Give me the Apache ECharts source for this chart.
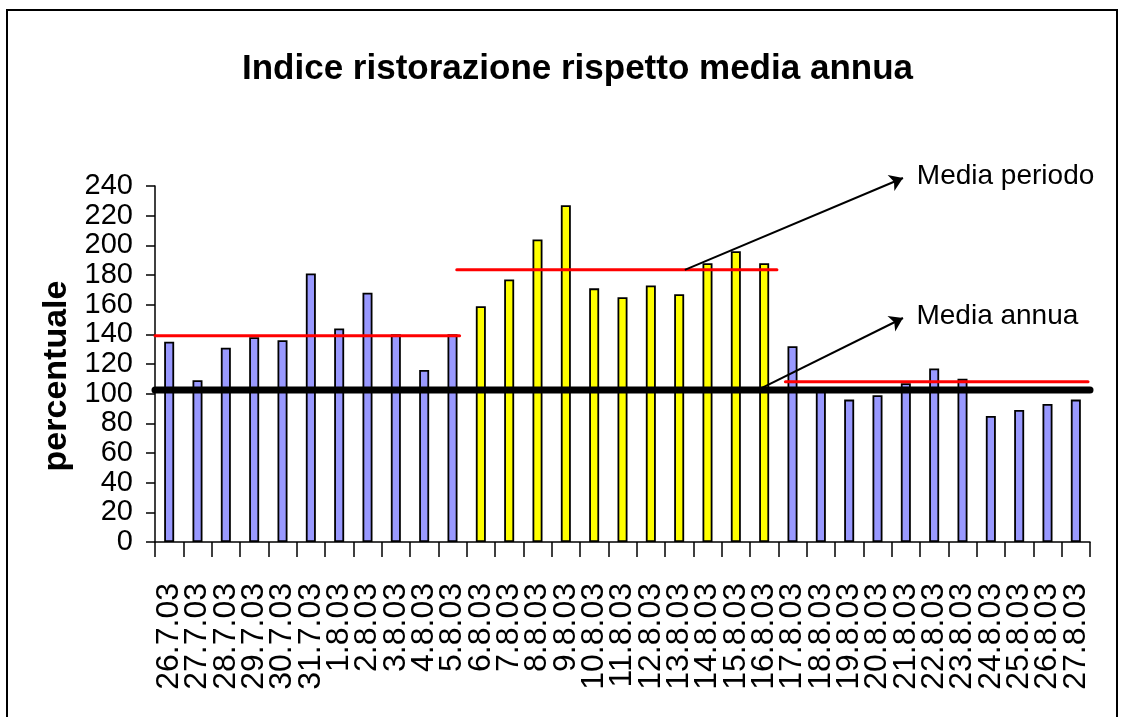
<!DOCTYPE html>
<html><head><meta charset="utf-8">
<script src="https://cdn.jsdelivr.net/npm/echarts@6/dist/echarts.min.js"></script>
<style>html,body{margin:0;padding:0;background:#fff}#c{width:1126px;height:717px}</style>
</head><body><div id="c"></div>
<script>
const categories = ['26.7.03','27.7.03','28.7.03','29.7.03','30.7.03','31.7.03',
  '1.8.03','2.8.03','3.8.03','4.8.03','5.8.03','6.8.03','7.8.03','8.8.03','9.8.03','10.8.03',
  '11.8.03','12.8.03','13.8.03','14.8.03','15.8.03','16.8.03','17.8.03','18.8.03','19.8.03','20.8.03',
  '21.8.03','22.8.03','23.8.03','24.8.03','25.8.03','26.8.03','27.8.03'];
const values = [135,109,131,138,136,181,144,168,140,116,140,
  159,177,204,227,171,165,173,167,188,196,188,
  132,102,96,99,107,117,110,85,89,93,96];
const highPeriod = [0,0,0,0,0,0,0,0,0,0,0, 1,1,1,1,1,1,1,1,1,1,1, 0,0,0,0,0,0,0,0,0,0,0];
const periodMeans = [139, 183.5, 108];
const periodSpans = [[0, 10.75], [10.65, 21.95], [22.25, 32.93]];
const annualMean = 102.5;
const yTicks = [0,20,40,60,80,100,120,140,160,180,200,220,240];
const annotations = [
  {name: 'Media periodo', from: [18.7, 183.5], to: [26.4, 245.4]},
  {name: 'Media annua', from: [21.28, 102.5], to: [26.4, 151]}
];

const FONT = "'Liberation Sans', Arial, sans-serif";
const chart = echarts.init(document.getElementById('c'), null, {renderer: 'canvas'});

const series = [{
  type: 'bar', xAxisIndex: 0, yAxisIndex: 0, barWidth: 10, z: 2,
  data: values.map((v, i) => ({value: v, itemStyle: {color: highPeriod[i] ? '#FFFF00' : '#9999FF'}})),
  itemStyle: {borderColor: '#000', borderWidth: 1.8}
}, {
  type: 'line', xAxisIndex: 1, yAxisIndex: 0, symbol: 'none', z: 4, silent: true,
  data: [[0, annualMean], [33, annualMean]],
  lineStyle: {color: '#000', width: 7, cap: 'round'}
}];
periodMeans.forEach((m, k) => {
  series.push({
    type: 'line', xAxisIndex: 1, yAxisIndex: 0, symbol: 'none', z: 3, silent: true,
    data: [[periodSpans[k][0], m], [periodSpans[k][1], m]],
    lineStyle: {color: '#FF0000', width: 3, cap: 'round'}
  });
});
series.push({
  type: 'lines', coordinateSystem: 'cartesian2d', xAxisIndex: 1, yAxisIndex: 0, clip: false, z: 5,
  symbol: ['none', 'arrow'], symbolSize: 13,
  lineStyle: {color: '#000', width: 2, opacity: 1, curveness: 0},
  label: {show: true, position: 'end', formatter: p => p.name, distance: [15, 5],
    color: '#000', fontSize: 28, fontFamily: FONT},
  data: annotations.map(a => ({name: a.name, coords: [a.from, a.to]}))
});

chart.setOption({
  animation: false,
  backgroundColor: '#fff',
  title: {
    text: 'Indice ristorazione rispetto media annua', left: 237, top: 47,
    textStyle: {fontFamily: FONT, fontWeight: 'bold', fontSize: 35, color: '#000'}
  },
  graphic: [{type: 'rect', shape: {x: 7, y: 10, width: 1110, height: 800},
    style: {fill: 'none', stroke: '#000', lineWidth: 2}, silent: true}],
  grid: {left: 155, right: 36, top: 186, bottom: 175},
  xAxis: [{
    type: 'category', data: categories,
    axisLine: {lineStyle: {color: '#000', width: 1.5}},
    axisTick: {show: true, interval: 0, length: 15, lineStyle: {color: '#000', width: 1.5}},
    axisLabel: {interval: 0, rotate: 90, margin: 41, fontSize: 32, color: '#000', fontFamily: FONT},
    splitLine: {show: false}
  }, {
    type: 'value', min: 0, max: 33, show: false
  }],
  yAxis: {
    type: 'value', min: 0, max: 240, interval: 20,
    name: 'percentuale', nameLocation: 'middle', nameRotate: 90, nameGap: 80,
    nameTextStyle: {fontFamily: FONT, fontWeight: 'bold', fontSize: 34, color: '#000', padding: [0, 24, 0, 0]},
    axisLine: {show: true, lineStyle: {color: '#000', width: 1.5}},
    axisTick: {show: true, length: 9, lineStyle: {color: '#000', width: 1.5}},
    axisLabel: {margin: 22, fontSize: 29, color: '#000', fontFamily: FONT,
      formatter: v => yTicks.includes(v) ? String(v) : ''},
    splitLine: {show: false}
  },
  series: series
});
</script></body></html>
